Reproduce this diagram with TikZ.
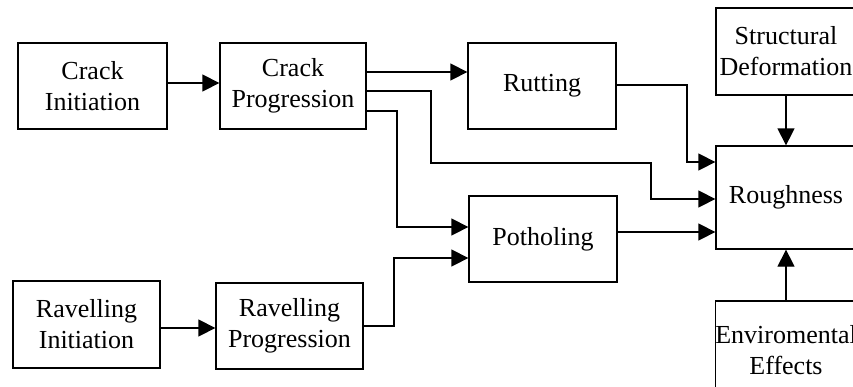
\documentclass[tikz,border=0pt]{standalone}
\usepackage{fontspec}
\setmainfont{Liberation Serif}
\usetikzlibrary{arrows.meta}
\begin{document}
\begin{tikzpicture}[x=1pt,y=-1pt,
  box/.style={draw,line width=1.3pt,rectangle,align=center,inner sep=0pt,
    font=\fontsize{26}{31}\selectfont},
  arr/.style={line width=1.3pt,-{Triangle[length=17pt,width=17pt]}}]
\useasboundingbox (0,0) rectangle (853,386);
\clip (0,0) rectangle (853,386);
\node[box,minimum width=149pt,minimum height=86pt] (CI) at (92.5,86) {Crack\\Initiation};
\node[box,minimum width=146pt,minimum height=86pt] (CP) at (293,86) {Crack\\Progression};
\node[box,minimum width=148pt,minimum height=86pt] (Rut) at (542,86) {Rutting};
\node[box,minimum width=148pt,minimum height=86pt] (Pot) at (543,239) {Potholing};
\node[box,minimum width=147pt,minimum height=87pt] (RI) at (86.5,324.5) {Ravelling\\Initiation};
\node[box,minimum width=147pt,minimum height=86pt] (RP) at (289.5,326) {Ravelling\\Progression};
\node[box,minimum width=140pt,minimum height=87pt] (SD) at (786,51.5) {Structural\\Deformation};
\node[box,minimum width=140pt,minimum height=103pt] (Rough) at (786,197.5) {\raisebox{6pt}{Roughness}};
\node[box,minimum width=140pt,minimum height=98pt] (EE) at (786,350) {Enviromental\\Effects};
% connectors
\draw[arr] ([yshift=3pt]CI.east) -- ([yshift=3pt]CP.west);
\draw[arr] ([yshift=-3.5pt]RI.east) -- ([yshift=-3.5pt]RI.east -| RP.west);
\draw[arr] ([yshift=14pt]CP.east) -- ([yshift=14pt]Rut.west);
\draw[arr] ([yshift=-5pt]CP.east) -| (431,163) -| (651,199) -- ([yshift=-1.5pt]Rough.west);
\draw[arr] ([yshift=-25pt]CP.east) -| (397,227) -- ([yshift=12pt]Pot.west);
\draw[arr] (RP.east) -| (394,258) -- ([yshift=-19pt]Pot.west);
\draw[arr] ([yshift=1pt]Rut.east) -| (687,162) -- ([yshift=35.5pt]Rough.west);
\draw[arr] ([yshift=7pt]Pot.east) -- ([yshift=-34.5pt]Rough.west);
\draw[arr] (SD.south) -- (Rough.north);
\draw[arr] (EE.north) -- (Rough.south);
\end{tikzpicture}
\end{document}
